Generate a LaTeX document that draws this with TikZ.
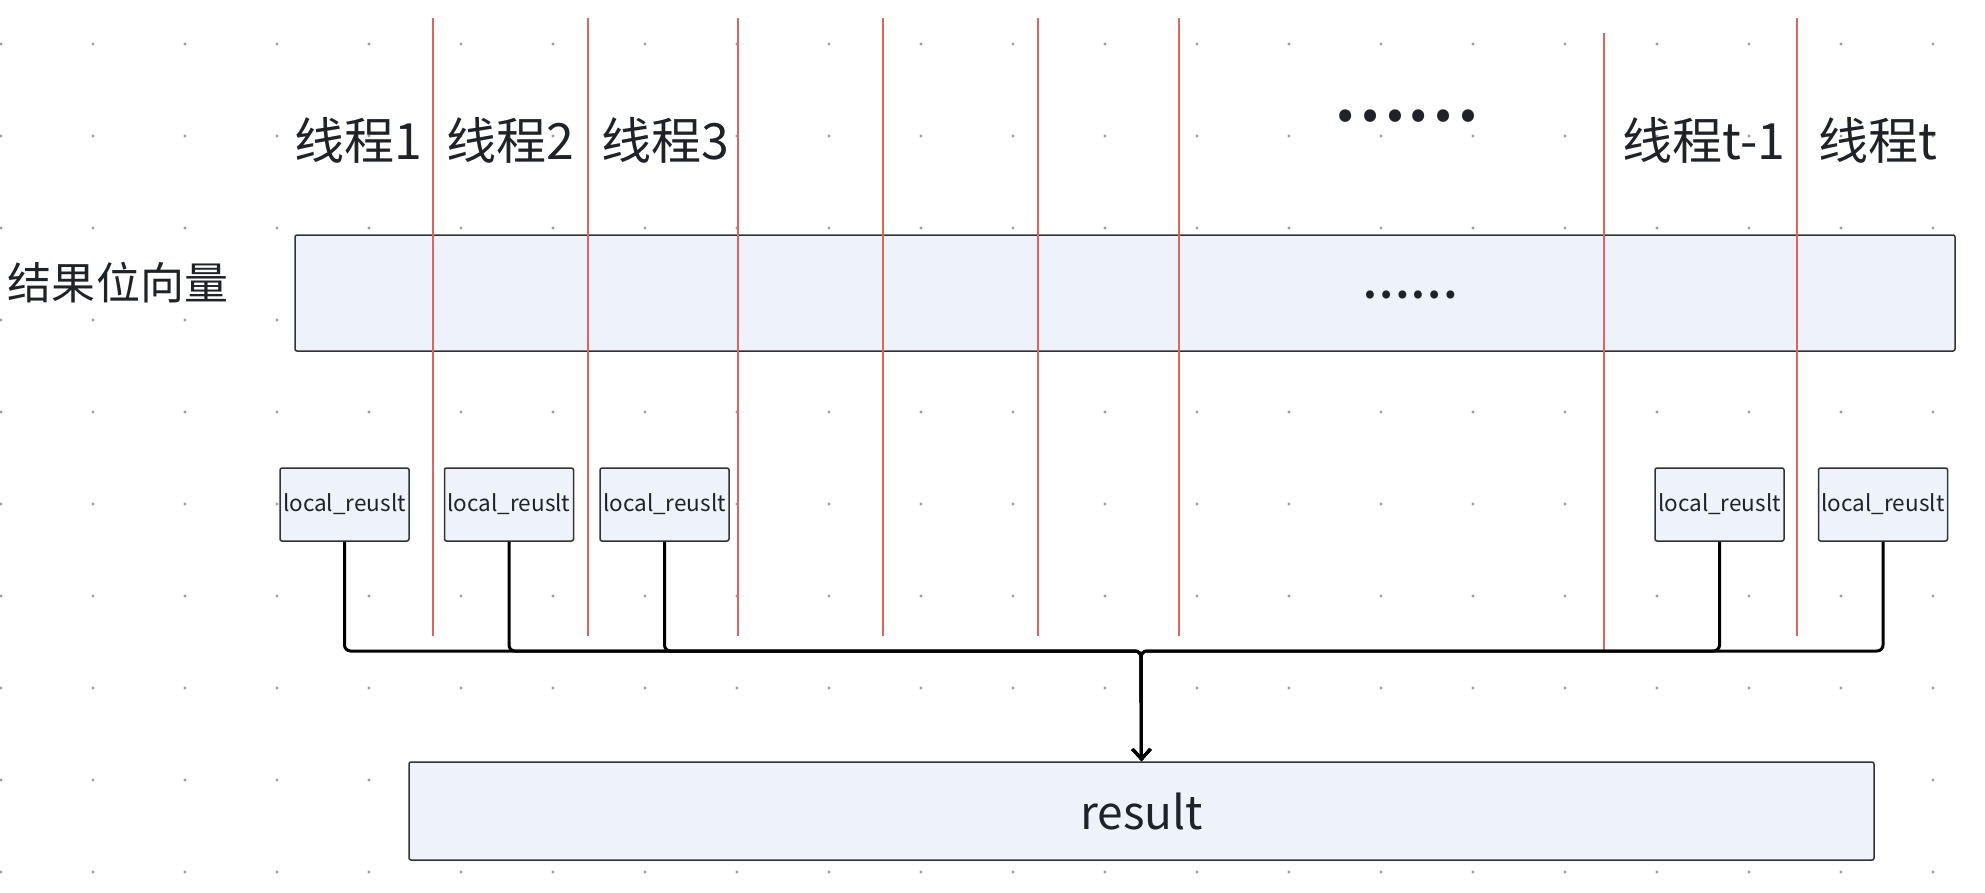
\documentclass[tikz,border=0pt]{standalone}
\usepackage{fontspec}
\setmainfont{Noto Sans CJK SC}
\newfontfamily\boldcjk{Noto Sans CJK SC Bold}
\usetikzlibrary{arrows.meta}
\definecolor{boxfill}{RGB}{238,242,250}
\definecolor{boxline}{RGB}{51,51,51}
\definecolor{txt}{RGB}{31,35,41}
\definecolor{redline}{RGB}{222,100,96}
\definecolor{griddot}{RGB}{150,156,168}
\newcommand{\fsz}[1]{\fontsize{#1pt}{#1pt}\selectfont}
\tikzset{
  bigbox/.style={draw=boxline, line width=1.5pt, fill=boxfill, rounded corners=2pt, inner sep=0pt},
  localbox/.style={bigbox, minimum width=129pt, minimum height=73pt, font=\fsz{22.5}, text=txt},
  threadlabel/.style={inner sep=0pt, font=\fsz{50}, text=txt},
  sepline/.style={draw=redline, line width=2.5pt},
  bus/.style={draw=black, line width=3pt, rounded corners=6pt},
}
\begin{document}
\begin{tikzpicture}[x=1pt, y=-1pt]
\useasboundingbox (0,0) rectangle (1985,892);
% grid dots
\foreach \i in {0,...,21} {
  \foreach \j in {0,...,9} {
    \fill[griddot] ({1+92*\i},{44+92*\j}) circle (1.6);
  }
}
% boxes
\node[bigbox, minimum width=1660pt, minimum height=116pt] (vec) at (1125,293) {};
\node[inner sep=0pt, font=\boldcjk\fsz{43}, text=txt] (vecdots) at (1410,295) {……};
\node[inner sep=0pt, font=\fsz{44}, text=txt] (veclabel) at (118,283) {结果位向量};

\node[localbox] (l1) at (344.5,504.5) {local\_reuslt};
\node[localbox] (l2) at (509,504.5) {local\_reuslt};
\node[localbox] (l3) at (664.5,504.5) {local\_reuslt};
\node[localbox] (l4) at (1719.5,504.5) {local\_reuslt};
\node[localbox] (l5) at (1883,504.5) {local\_reuslt};

\node[bigbox, minimum width=1465pt, minimum height=98pt, font=\fsz{46}, text=txt] (res) at (1141.5,811) {result};

% thread labels
\node[threadlabel] (t1) at (358,140) {线程1};
\node[threadlabel] (t2) at (510,140) {线程2};
\node[threadlabel] (t3) at (665,140) {线程3};
\node[threadlabel] (tt1) at (1704,140) {线程t-1};
\node[threadlabel] (tt) at (1878,140) {线程t};
\node[inner sep=0pt, font=\boldcjk\fsz{66}, text=txt] (topdots) at (1406,116) {……};

% separators
\foreach \x in {433,588,738,883,1038,1179,1797} {
  \draw[sepline] (\x,18) -- (\x,636);
}
\draw[sepline] (1604,33) -- (1604,651);

% connectors
\coordinate (j) at (1141,651);
\foreach \n in {l1,l2,l3,l4,l5} {
  \draw[bus, -{Straight Barb[length=10pt, width=18pt, line width=3pt]}] (\n.south) |- (j) -- (res.north);
}
\end{tikzpicture}
\end{document}
